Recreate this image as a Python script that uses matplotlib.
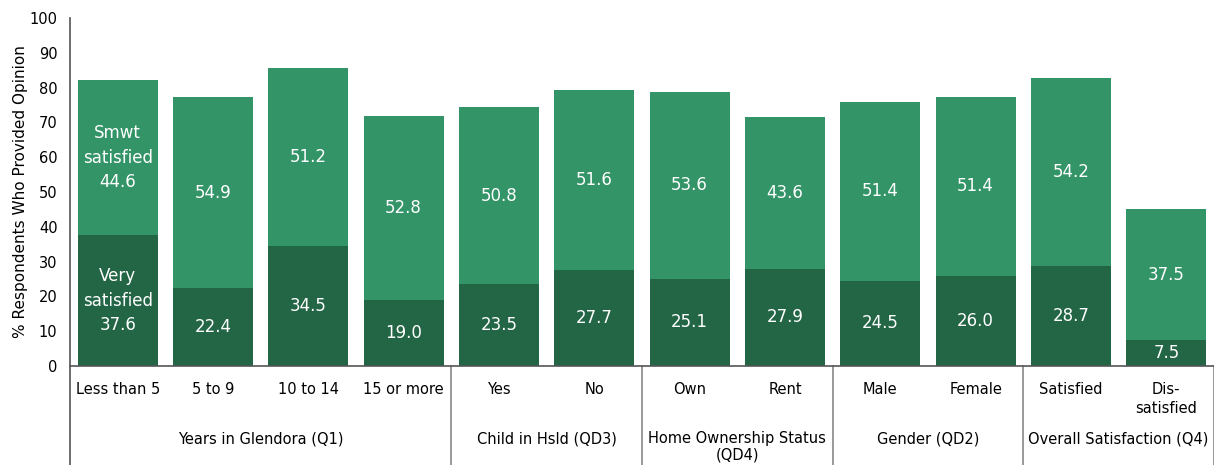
import numpy as np
import matplotlib.pyplot as plt
import matplotlib.transforms as mtransforms

categories = ['Less than 5', '5 to 9', '10 to 14', '15 or more', 'Yes', 'No',
              'Own', 'Rent', 'Male', 'Female', 'Satisfied', 'Dis-\nsatisfied']
very_satisfied = [37.6, 22.4, 34.5, 19.0, 23.5, 27.7, 25.1, 27.9, 24.5, 26.0, 28.7, 7.5]
smwt_satisfied = [44.6, 54.9, 51.2, 52.8, 50.8, 51.6, 53.6, 43.6, 51.4, 51.4, 54.2, 37.5]
groups = ['Years in Glendora (Q1)', 'Child in Hsld (QD3)', 'Home Ownership Status\n(QD4)',
          'Gender (QD2)', 'Overall Satisfaction (Q4)']
group_sizes = [4, 2, 2, 2, 2]

dark = '#236645'
light = '#339467'

plt.rcParams['font.family'] = 'DejaVu Sans'
fig = plt.figure(figsize=(12.14, 4.65), dpi=100)
ax = fig.add_axes([70 / 1214, 99 / 465, 1144 / 1214, 348 / 465])

x = np.arange(len(categories))
w = 0.84
ax.bar(x, very_satisfied, w, color=dark, zorder=2)
ax.bar(x, smwt_satisfied, w, bottom=very_satisfied, color=light, zorder=2)

# value labels inside the segments
for i in range(len(categories)):
    v1, v2 = very_satisfied[i], smwt_satisfied[i]
    t1 = f'{v1:.1f}'
    t2 = f'{v2:.1f}'
    if i == 0:
        t1 = 'Very\nsatisfied\n' + t1
        t2 = 'Smwt\nsatisfied\n' + t2
    ax.text(i, v1 / 2, t1, ha='center', va='center', color='white', fontsize=12,
            linespacing=1.45)
    ax.text(i, v1 + v2 / 2, t2, ha='center', va='center', color='white', fontsize=12,
            linespacing=1.45)

ax.set_xlim(-0.5, len(categories) - 0.5)
ax.set_ylim(0, 100)
ax.set_yticks(range(0, 101, 10))
ax.tick_params(axis='y', length=0, labelsize=10.5, pad=9)
ax.set_xticks([])
ax.set_ylabel('% Respondents Who Provided Opinion', fontsize=11, labelpad=1)

for s in ['top', 'right']:
    ax.spines[s].set_visible(False)
ax.spines['left'].set_visible(False)
ax.spines['bottom'].set_color('#555555')
ax.spines['bottom'].set_linewidth(1.2)

trans = mtransforms.blended_transform_factory(ax.transData, ax.transAxes)
bottom = -99 / 348

# category labels
for i, c in enumerate(categories):
    ax.text(i, -16 / 348, c, transform=trans, ha='center', va='top', fontsize=10.5,
            linespacing=1.35)

# group labels and separators
ax.plot([-0.5, -0.5], [bottom, 1.0], transform=trans, color='#555555', lw=1.2, clip_on=False)
start = 0
for g, n in zip(groups, group_sizes):
    mid = start + (n - 1) / 2
    ax.text(mid, -65 / 348, g, transform=trans, ha='center', va='top', fontsize=10.5,
            linespacing=1.1)
    end = start + n - 0.5
    ax.plot([end, end], [bottom, 0], transform=trans, color='#888888', lw=1.2, clip_on=False)
    start += n

fig.savefig('out.png', dpi=100)
